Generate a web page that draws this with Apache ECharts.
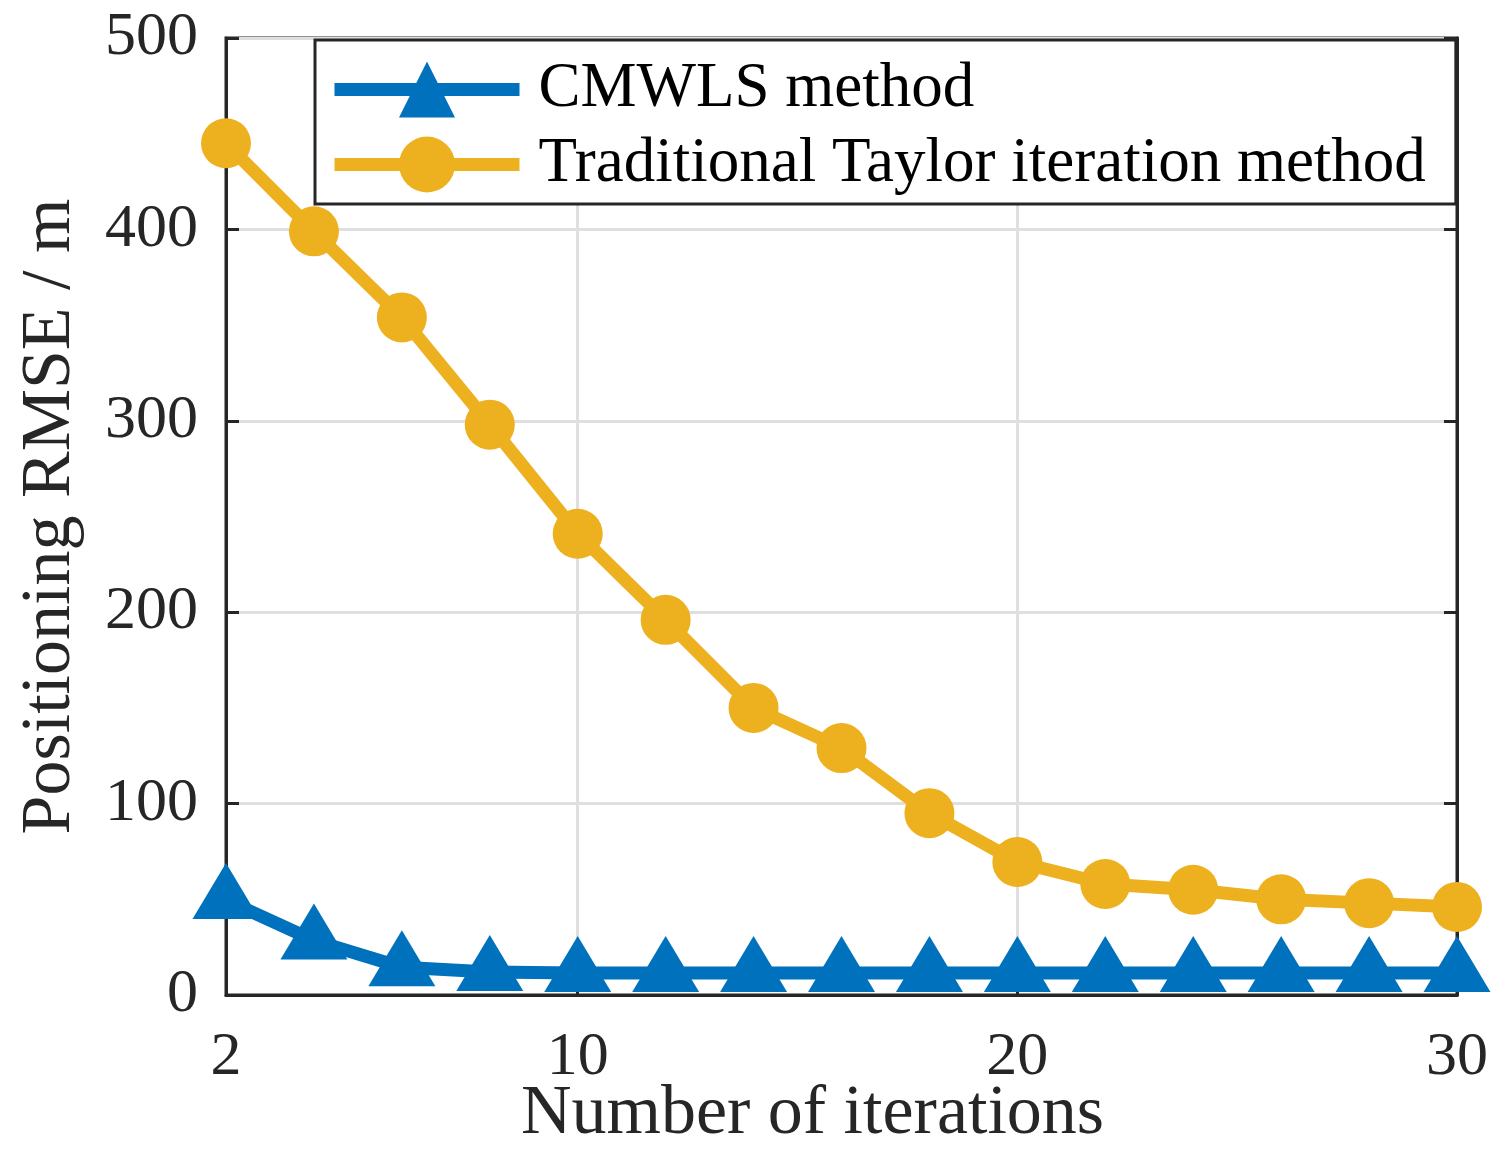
<!DOCTYPE html>
<html>
<head>
<meta charset="utf-8">
<script src="https://cdn.jsdelivr.net/npm/echarts@6/dist/echarts.min.js"></script>
<style>
  html, body { margin: 0; padding: 0; background: #fff; }
  #chart { width: 1506px; height: 1153px; }
</style>
</head>
<body>
<div id="chart"></div>
<script>
const iterations = [2, 4, 6, 8, 10, 12, 14, 16, 18, 20, 22, 24, 26, 28, 30]
const cmwls = [49.6, 28.5, 14.5, 12, 11.5, 11.5, 11.5, 11.5, 11.5, 11.5, 11.5, 11.5, 11.5, 11.5, 11.5]
const taylor = [445, 399, 354, 298, 241, 196, 150, 129, 95, 69.5, 58, 55, 50, 48, 46]
const xTicks = [2, 10, 20, 30]

const font = 'Liberation Serif'
const ink = '#262626'

const pairs = (ys) => iterations.map((x, i) => [x, ys[i]])

const option = {
  backgroundColor: '#fff',
  animation: false,
  grid: {
    left: 226,
    right: 49,
    top: 38,
    bottom: 158,
    outerBoundsMode: 'none',
    show: true,
    borderColor: ink,
    borderWidth: 3
  },
  legend: {
    orient: 'vertical',
    left: 315,
    top: 40,
    itemWidth: 185,
    itemHeight: 70,
    itemGap: 12,
    padding: [18, 30, 8, 13],
    backgroundColor: '#fff',
    borderColor: ink,
    borderWidth: 3,
    borderRadius: 0,
    lineStyle: { width: 13 },
    textStyle: {
      fontFamily: font,
      fontSize: 63,
      color: '#000',
      padding: [0, 0, 0, 14]
    },
    data: ['CMWLS method', 'Traditional Taylor iteration method']
  },
  xAxis: {
    type: 'value',
    min: 2,
    max: 30,
    name: 'Number of iterations',
    nameLocation: 'middle',
    nameGap: 85,
    nameMoveOverlap: false,
    nameTextStyle: {
      fontFamily: font,
      fontSize: 70,
      color: ink,
      padding: [0, 58, 0, 0]
    },
    axisLine: { show: true, lineStyle: { color: ink, width: 3 } },
    axisTick: {
      show: true,
      inside: true,
      length: 13,
      customValues: xTicks,
      lineStyle: { color: ink, width: 3 }
    },
    axisLabel: {
      customValues: xTicks,
      fontFamily: font,
      fontSize: 62,
      color: ink,
      margin: 32
    },
    splitLine: { show: true, lineStyle: { color: '#dfdfdf', width: 3 } }
  },
  yAxis: [
    {
      type: 'value',
      min: 0,
      max: 500,
      interval: 100,
      name: 'Positioning RMSE / m',
      nameLocation: 'middle',
      nameGap: 140,
      nameTextStyle: {
        fontFamily: font,
        fontSize: 70,
        color: ink
      },
      axisLine: { show: true, lineStyle: { color: ink, width: 3 } },
      axisTick: { show: true, inside: true, length: 13, lineStyle: { color: ink, width: 3 } },
      axisLabel: {
        fontFamily: font,
        fontSize: 62,
        color: ink,
        margin: 28
      },
      splitLine: { show: true, lineStyle: { color: '#dfdfdf', width: 3 } }
    },
    {
      type: 'value',
      position: 'right',
      min: 0,
      max: 500,
      interval: 100,
      axisLine: { show: true, lineStyle: { color: ink, width: 3 } },
      axisTick: { show: true, inside: true, length: 13, lineStyle: { color: ink, width: 3 } },
      axisLabel: { show: false },
      splitLine: { show: false }
    }
  ],
  series: [
    {
      name: 'CMWLS method',
      type: 'line',
      data: pairs(cmwls),
      symbol: 'triangle',
      symbolSize: [67, 56],
      symbolOffset: [0, -9],
      showAllSymbol: true,
      clip: false,
      color: '#0072BD',
      lineStyle: { width: 13, color: '#0072BD' },
      itemStyle: { color: '#0072BD' },
      z: 3
    },
    {
      name: 'Traditional Taylor iteration method',
      type: 'line',
      data: pairs(taylor),
      symbol: 'circle',
      symbolSize: 50,
      showAllSymbol: true,
      clip: false,
      color: '#EDB120',
      lineStyle: { width: 13, color: '#EDB120' },
      itemStyle: { color: '#EDB120' },
      z: 2
    }
  ]
}

const chart = echarts.init(document.getElementById('chart'), null, { renderer: 'canvas' })
option && chart.setOption(option)
</script>
</body>
</html>
